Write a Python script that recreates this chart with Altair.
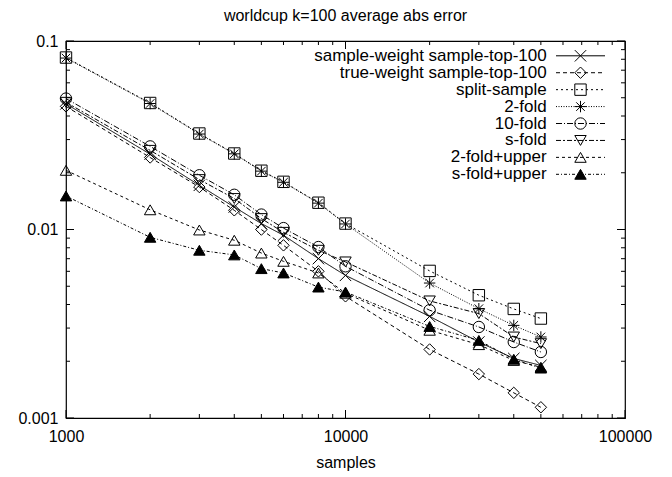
import altair as alt
import pandas as pd

FONT = "Liberation Sans"

samples = [1000, 2000, 3000, 4000, 5000, 6000, 8000, 10000, 20000, 30000, 40000, 50000]

series_names = [
    "sample-weight sample-top-100",
    "true-weight sample-top-100",
    "split-sample",
    "2-fold",
    "10-fold",
    "s-fold",
    "2-fold+upper",
    "s-fold+upper",
]

sample_weight = [0.0464, 0.0251, 0.01715, 0.01316, 0.01075, 0.00932, 0.00701, 0.00571, 0.00346, 0.00253, 0.00207, 0.00190]
true_weight = [0.0450, 0.0241, 0.0168, 0.01264, 0.00999, 0.00824, 0.0060, 0.00442, 0.00231, 0.00171, 0.00136, 0.00114]
split_sample = [0.0817, 0.0469, 0.0323, 0.0253, 0.0205, 0.0179, 0.01387, 0.01075, 0.00603, 0.00448, 0.00379, 0.00337]
two_fold = [0.0812, 0.0466, 0.0321, 0.0252, 0.0204, 0.0178, 0.01380, 0.0107, 0.0052, 0.0038, 0.0031, 0.00269]
ten_fold = [0.0495, 0.0276, 0.0194, 0.01528, 0.0120, 0.01017, 0.00807, 0.00638, 0.00373, 0.00304, 0.00253, 0.00224]
s_fold = [0.0473, 0.0263, 0.0184, 0.0146, 0.01143, 0.00966, 0.00776, 0.00673, 0.00418, 0.00358, 0.00269, 0.00248]
two_fold_upper = [0.0206, 0.01272, 0.00994, 0.00877, 0.0075, 0.00678, 0.00588, 0.00459, 0.00292, 0.00245, 0.00202, 0.00186]
s_fold_upper = [0.01506, 0.00909, 0.00776, 0.00733, 0.0062, 0.00588, 0.00495, 0.00466, 0.00306, 0.00258, 0.00205, 0.00184]

all_series = [sample_weight, true_weight, split_sample, two_fold, ten_fold, s_fold, two_fold_upper, s_fold_upper]

x_major = [1000, 10000, 100000]
x_minor = [2000, 3000, 4000, 5000, 6000, 7000, 8000, 9000,
           20000, 30000, 40000, 50000, 60000, 70000, 80000, 90000]
y_major = [0.001, 0.01, 0.1]
y_minor = [0.002, 0.003, 0.004, 0.005, 0.006, 0.007, 0.008, 0.009,
           0.02, 0.03, 0.04, 0.05, 0.06, 0.07, 0.08, 0.09]

rows = []
for name, vals in zip(series_names, all_series):
    for s, v in zip(samples, vals):
        rows.append({"series": name, "samples": s, "error": v})
df = pd.DataFrame(rows)

# styles
dashes = [[1, 0], [4, 3], [2, 3], [1, 1.5], [6, 2, 1, 2], [5, 2, 2, 2], [3, 3], [3, 2, 1, 2]]
X_PATH = "M-1,-1L1,1M-1,1L1,-1"
STAR_PATH = "M-1,0L1,0M0,-1L0,1M-0.75,-0.75L0.75,0.75M-0.75,0.75L0.75,-0.75"
shapes = [X_PATH, "diamond", "square", STAR_PATH, "circle", "triangle-down", "triangle-up", "triangle-up"]

W, H = 559, 377
MAJ, MIN = 8, 4

xs = alt.Scale(type="log", domain=[1000, 100000], nice=False)
ys = alt.Scale(type="log", domain=[0.001, 0.1], nice=False)
dash_scale = alt.Scale(domain=series_names, range=dashes)
shape_scale = alt.Scale(domain=series_names, range=shapes)

x_axis = alt.Axis(values=x_major, format="d", ticks=False, domain=False, grid=False,
                  labelFont=FONT, labelFontSize=16, labelColor="black", labelPadding=10,
                  labelFlush=False, title="samples", titleFont=FONT, titleFontSize=16,
                  titleFontWeight="normal", titleColor="black", titlePadding=10)
y_axis = alt.Axis(values=y_major, format="~g", ticks=False, domain=False, grid=False,
                  labelFont=FONT, labelFontSize=16, labelColor="black", labelPadding=8,
                  labelFlush=False, title=None)

def X(field):
    return alt.X(field, type="quantitative", scale=xs, axis=x_axis)

def Y(field):
    return alt.Y(field, type="quantitative", scale=ys, axis=y_axis)

base = alt.Chart(df)
lines = base.mark_line(color="black", strokeWidth=1).encode(
    x=X("samples"), y=Y("error"),
    strokeDash=alt.StrokeDash("series:N", scale=dash_scale, legend=None),
    detail="series:N",
)
fill_rule = alt.condition(alt.datum.series == "s-fold+upper", alt.value("black"), alt.value("transparent"))
points = base.mark_point(filled=True, stroke="black", strokeWidth=1, size=130, opacity=1).encode(
    x=X("samples"), y=Y("error"),
    shape=alt.Shape("series:N", scale=shape_scale, legend=None),
    fill=fill_rule,
)

xmaj = alt.Chart(pd.DataFrame({"samples": x_major}))
xmin = alt.Chart(pd.DataFrame({"samples": x_minor}))
ymaj = alt.Chart(pd.DataFrame({"error": y_major}))
ymin = alt.Chart(pd.DataFrame({"error": y_minor}))
rk = dict(color="black", strokeWidth=1)
ticks = [
    xmaj.mark_rule(**rk).encode(x=X("samples"), y=alt.value(H), y2=alt.value(H - MAJ)),
    xmaj.mark_rule(**rk).encode(x=X("samples"), y=alt.value(0), y2=alt.value(MAJ)),
    xmin.mark_rule(**rk).encode(x=X("samples"), y=alt.value(H), y2=alt.value(H - MIN)),
    xmin.mark_rule(**rk).encode(x=X("samples"), y=alt.value(0), y2=alt.value(MIN)),
    ymaj.mark_rule(**rk).encode(y=Y("error"), x=alt.value(0), x2=alt.value(MAJ)),
    ymaj.mark_rule(**rk).encode(y=Y("error"), x=alt.value(W), x2=alt.value(W - MAJ)),
    ymin.mark_rule(**rk).encode(y=Y("error"), x=alt.value(0), x2=alt.value(MIN)),
    ymin.mark_rule(**rk).encode(y=Y("error"), x=alt.value(W), x2=alt.value(W - MIN)),
]

main = alt.layer(lines, points, *ticks)

# legend (gnuplot style: text, then line sample with marker)
leg_y = alt.Scale(type="point", domain=series_names, range=[14.8, 133.3], padding=0)
leg = alt.Chart(pd.DataFrame({"series": series_names}))
LY = alt.Y("series:N", scale=leg_y, axis=None)
leg_text = leg.mark_text(align="right", baseline="middle", font=FONT, fontSize=17, color="black").encode(
    text="series:N", y=LY, x=alt.value(480.7))
leg_rule = leg.mark_rule(color="black", strokeWidth=1).encode(
    y=LY, x=alt.value(490), x2=alt.value(539),
    strokeDash=alt.StrokeDash("series:N", scale=dash_scale, legend=None))
leg_pts = leg.mark_point(filled=True, stroke="black", strokeWidth=1, size=130, opacity=1).encode(
    y=LY, x=alt.value(514.5),
    shape=alt.Shape("series:N", scale=shape_scale, legend=None),
    fill=fill_rule)
legend = alt.layer(leg_text, leg_rule, leg_pts)

chart = alt.layer(main, legend).resolve_scale(y="independent").properties(
    width=W, height=H,
    title=alt.TitleParams("worldcup k=100 average abs error", font=FONT, fontSize=16,
                          fontWeight="normal", color="black", anchor="middle", offset=9),
    padding={"left": 66, "top": 41, "right": 47, "bottom": 59},
    autosize=alt.AutoSizeParams(type="none"),
).configure_view(stroke="black", strokeWidth=1.2)

chart.save("out.html", embed_options={"renderer": "svg", "actions": False})
